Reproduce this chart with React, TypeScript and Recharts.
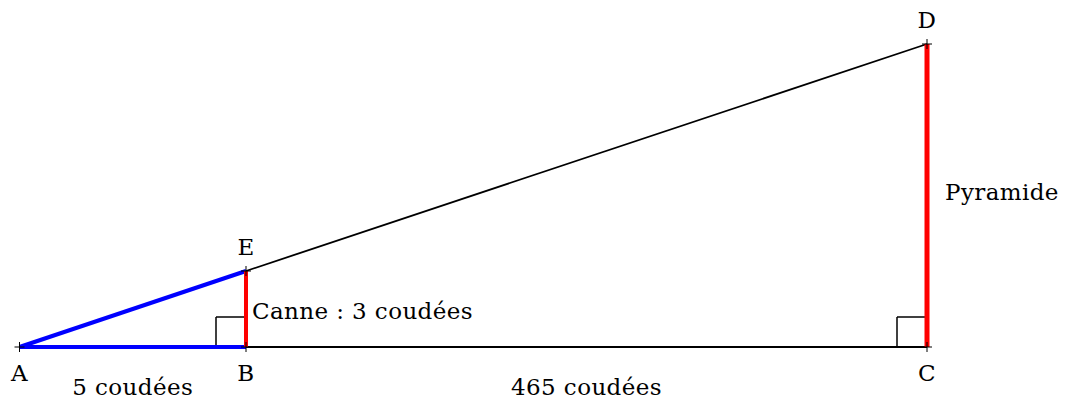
import React from 'react'
import { ComposedChart, XAxis, YAxis, ReferenceLine, ReferenceDot } from 'recharts'

// figure points (drawing units, A at the origin)
const pointNames = ['A', 'B', 'C', 'D', 'E']
const pointX = [0, 226.5, 907.5, 907.5, 226.5]
const pointY = [0, 0, 0, 303, 76]

// measures written on the figure
const baseLabels = ['5 coudées', '465 coudées']
const sideLabels = ['Canne : 3 coudées', 'Pyramide']

const W = 1070
const H = 403
const SQ = 30
const FONT = '"DejaVu Serif", serif'

const P = (n: string) => {
  const i = pointNames.indexOf(n)
  return { x: pointX[i], y: pointY[i] }
}

const nameOffset: Record<string, number> = { A: 34, B: 34, C: 34, D: -16, E: -16 }

export default function App() {
  const A = P('A'), B = P('B'), C = P('C'), D = P('D'), E = P('E')

  const textLabel = (text: string, dx: number, dy: number, anchor: 'start' | 'middle') =>
    (props: any) => {
      const vb = props.viewBox || {}
      return (
        <text x={vb.x + dx} y={vb.y + dy} textAnchor={anchor} fontFamily={FONT} fontSize={23}
          letterSpacing={0.4} fill="#000">
          {text}
        </text>
      )
    }

  const cross = (props: any) => {
    const vb = props.viewBox || {}
    return (
      <g stroke="#000" strokeWidth={1}>
        <line x1={vb.x - 5} y1={vb.y} x2={vb.x + 5} y2={vb.y} />
        <line x1={vb.x} y1={vb.y - 5} x2={vb.x} y2={vb.y + 5} />
      </g>
    )
  }

  return (
    <div style={{ position: 'absolute', left: 0, top: 0, background: '#fff' }}>
      <ComposedChart width={W} height={H} margin={{ top: 0, right: 0, bottom: 0, left: 0 }} data={[]}>
        <XAxis type="number" dataKey="x" domain={[-19.5, 1050.5]} hide allowDataOverflow />
        <YAxis type="number" dataKey="y" domain={[-56, 347]} hide allowDataOverflow />

        {/* right angle marks */}
        <ReferenceLine segment={[{ x: B.x - SQ, y: 0 }, { x: B.x - SQ, y: SQ }]} stroke="#000" strokeWidth={1.5} />
        <ReferenceLine segment={[{ x: B.x - SQ, y: SQ }, { x: B.x, y: SQ }]} stroke="#000" strokeWidth={1.5} />
        <ReferenceLine segment={[{ x: C.x - SQ, y: 0 }, { x: C.x - SQ, y: SQ }]} stroke="#000" strokeWidth={1.5} />
        <ReferenceLine segment={[{ x: C.x - SQ, y: SQ }, { x: C.x, y: SQ }]} stroke="#000" strokeWidth={1.5} />

        {/* black lines */}
        <ReferenceLine segment={[B, C]} stroke="#000" strokeWidth={2} />
        <ReferenceLine segment={[E, D]} stroke="#000" strokeWidth={1.8} />

        {/* small triangle */}
        <ReferenceLine segment={[A, B]} stroke="#0000ff" strokeWidth={4} />
        <ReferenceLine segment={[A, E]} stroke="#0000ff" strokeWidth={4} />
        <ReferenceLine segment={[B, E]} stroke="#ff0000" strokeWidth={4} />
        <ReferenceLine segment={[C, D]} stroke="#ff0000" strokeWidth={5} />

        {pointNames.map((n, i) => (
          <ReferenceDot key={'c' + n} x={pointX[i]} y={pointY[i]} r={0} label={cross} />
        ))}
        {pointNames.map((n, i) => (
          <ReferenceDot key={'n' + n} x={pointX[i]} y={pointY[i]} r={0}
            label={textLabel(n, 0, nameOffset[n], 'middle')} />
        ))}

        <ReferenceDot x={(A.x + B.x) / 2} y={0} r={0} label={textLabel(baseLabels[0], 0, 48, 'middle')} />
        <ReferenceDot x={(B.x + C.x) / 2} y={0} r={0} label={textLabel(baseLabels[1], 0, 48, 'middle')} />
        <ReferenceDot x={B.x} y={(B.y + E.y) / 2} r={0} label={textLabel(sideLabels[0], 6, 10, 'start')} />
        <ReferenceDot x={C.x} y={(C.y + D.y) / 2} r={0} label={textLabel(sideLabels[1], 18, 4, 'start')} />
      </ComposedChart>
    </div>
  )
}
